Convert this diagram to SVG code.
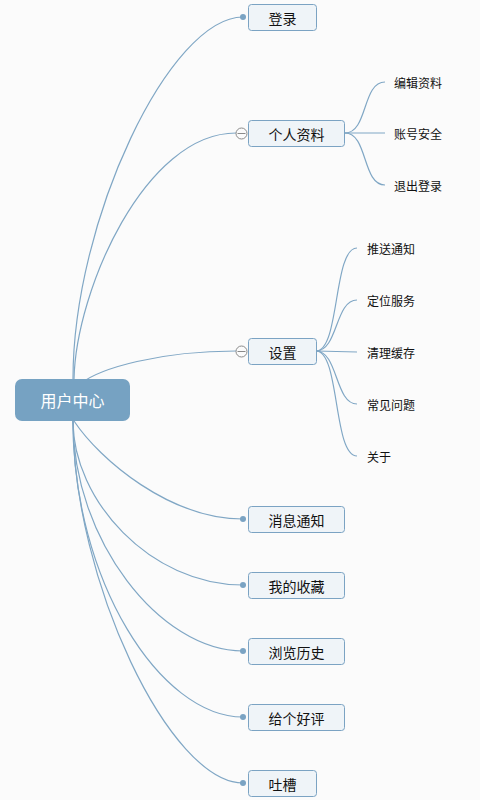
<svg xmlns="http://www.w3.org/2000/svg" width="480" height="800" viewBox="0 0 480 800">
  <style>
    .bg { fill: #fbfbfb; }
    .link { fill: none; stroke: #80a7c5; stroke-width: 1.2; }
    .dot { fill: #7aa3c3; }
    .box { fill: #eff4f8; stroke: #7ba3c3; stroke-width: 1; }
    .root { fill: #76a2c2; }
    .label { font-family: "Noto Sans CJK SC", "Noto Sans", sans-serif; font-size: 14px; fill: #111; text-anchor: middle; dominant-baseline: central; }
    .rootlabel { font-family: "Noto Sans CJK SC", "Noto Sans", sans-serif; font-size: 16px; fill: #ffffff; text-anchor: middle; dominant-baseline: central; }
    .leaf { font-family: "Noto Sans CJK SC", "Noto Sans", sans-serif; font-size: 12px; fill: #111; dominant-baseline: central; }
    .toggle { fill: #fbfbfb; stroke: #8a8a8a; stroke-width: 1; }
    .toggle-bar { stroke: #8a8a8a; stroke-width: 1; }
  </style>

  <rect class="bg" x="0" y="0" width="480" height="800"/>

  <!-- connectors -->
  <g id="connectors">
    <!-- root to main branches -->
    <path class="link" d="M73,379 C73,220 170,17 243,17"/>
    <path class="link" d="M74,379 C76,290 145,133 236,133"/>
    <path class="link" d="M80,384 C100,368 160,351 236,351"/>
    <path class="link" d="M74,421 C100,460 170,519 243,519"/>
    <path class="link" d="M73,421 C73,500 150,585 243,585"/>
    <path class="link" d="M73,421 C73,540 160,651 243,651"/>
    <path class="link" d="M73,421 C73,580 160,717 243,717"/>
    <path class="link" d="M73,421 C73,580 170,783 243,783"/>

    <!-- 个人资料 children -->
    <path class="link" d="M345,133 C368,133 362,82 385,82"/>
    <path class="link" d="M345,133 L385,133"/>
    <path class="link" d="M345,133 C368,133 362,185 385,185"/>

    <!-- 设置 children -->
    <path class="link" d="M316,351 C340,351 333,248 357,248"/>
    <path class="link" d="M316,351 C338,351 335,300 357,300"/>
    <path class="link" d="M316,351 L357,352"/>
    <path class="link" d="M316,351 C338,351 335,404 357,404"/>
    <path class="link" d="M316,351 C340,351 333,456 357,456"/>

    <!-- end dots -->
    <circle class="dot" cx="243" cy="17" r="3"/>
    <circle class="dot" cx="243" cy="519" r="3"/>
    <circle class="dot" cx="243" cy="585" r="3"/>
    <circle class="dot" cx="243" cy="651" r="3"/>
    <circle class="dot" cx="243" cy="717" r="3"/>
    <circle class="dot" cx="243" cy="783" r="3"/>
  </g>

  <g id="root">
    <rect class="root" x="15" y="379" width="115" height="42" rx="7"/>
    <text class="rootlabel" x="72.5" y="400">用户中心</text>
  </g>

  <g id="login">
    <rect class="box" x="248.5" y="4.5" width="68" height="26" rx="3"/>
    <text class="label" x="282.5" y="17.5">登录</text>
  </g>

  <g id="profile">
    <circle class="toggle" cx="241.5" cy="133.5" r="5.5"/>
    <line class="toggle-bar" x1="237.5" y1="133.5" x2="245.5" y2="133.5"/>
    <rect class="box" x="248.5" y="120.5" width="96" height="26" rx="3"/>
    <text class="label" x="296.5" y="133.5">个人资料</text>
  </g>
  <g id="profile-edit"><text class="leaf" x="394" y="82">编辑资料</text></g>
  <g id="profile-security"><text class="leaf" x="394" y="133">账号安全</text></g>
  <g id="profile-logout"><text class="leaf" x="394" y="185">退出登录</text></g>

  <g id="settings">
    <circle class="toggle" cx="241.5" cy="351.5" r="5.5"/>
    <line class="toggle-bar" x1="237.5" y1="351.5" x2="245.5" y2="351.5"/>
    <rect class="box" x="248.5" y="338.5" width="68" height="26" rx="3"/>
    <text class="label" x="282.5" y="351.5">设置</text>
  </g>
  <g id="settings-push"><text class="leaf" x="367" y="248">推送通知</text></g>
  <g id="settings-location"><text class="leaf" x="367" y="300">定位服务</text></g>
  <g id="settings-cache"><text class="leaf" x="367" y="352">清理缓存</text></g>
  <g id="settings-faq"><text class="leaf" x="367" y="404">常见问题</text></g>
  <g id="settings-about"><text class="leaf" x="367" y="456">关于</text></g>

  <g id="messages">
    <rect class="box" x="248.5" y="506.5" width="96" height="26" rx="3"/>
    <text class="label" x="296.5" y="519.5">消息通知</text>
  </g>
  <g id="favorites">
    <rect class="box" x="248.5" y="572.5" width="96" height="26" rx="3"/>
    <text class="label" x="296.5" y="585.5">我的收藏</text>
  </g>
  <g id="history">
    <rect class="box" x="248.5" y="638.5" width="96" height="26" rx="3"/>
    <text class="label" x="296.5" y="651.5">浏览历史</text>
  </g>
  <g id="rate">
    <rect class="box" x="248.5" y="704.5" width="96" height="26" rx="3"/>
    <text class="label" x="296.5" y="717.5">给个好评</text>
  </g>
  <g id="feedback">
    <rect class="box" x="248.5" y="770.5" width="68" height="26" rx="3"/>
    <text class="label" x="282.5" y="783.5">吐槽</text>
  </g>
</svg>
